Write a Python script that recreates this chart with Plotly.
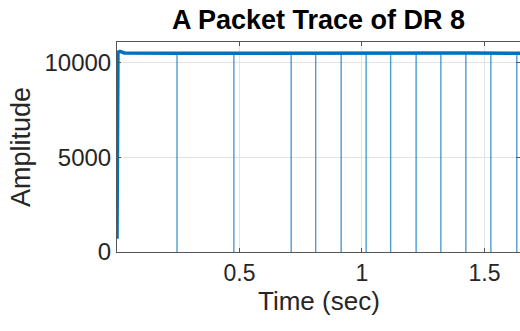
import plotly.graph_objects as go

# Received amplitude of the packet trace (sec, amplitude)
carrier_time = [0.0, 0.004, 0.012, 0.03, 0.25, 0.48, 0.72, 0.95, 1.2, 1.45, 1.645]
carrier_amp = [700, 10560, 10600, 10520, 10500, 10510, 10490, 10520, 10500, 10520, 10500]

# Times where the amplitude drops out between packets
dropout_time = [0.245, 0.477, 0.711, 0.811, 0.915, 1.017, 1.117, 1.221,
                1.322, 1.424, 1.526, 1.632]
dropout_level = 10500

# Build vertical dropout segments (level -> 0 -> level) separated by gaps
dx, dy = [], []
for t in dropout_time:
    dx += [t, t, None]
    dy += [dropout_level, 0, None]

BLUE = "#0072BD"
AXIS = "#555555"
TXT = "#262626"
FONT = "Arial, Liberation Sans, Helvetica, sans-serif"

fig = go.Figure()
fig.add_trace(go.Scatter(x=dx, y=dy, mode="lines",
                         line=dict(color="rgba(0,114,189,0.7)", width=1.4),
                         hoverinfo="skip", showlegend=False))
fig.add_trace(go.Scatter(x=carrier_time, y=carrier_amp, mode="lines",
                         line=dict(color=BLUE, width=3.5),
                         showlegend=False))

fig.update_layout(
    width=520, height=331,
    margin=dict(l=117, r=0, t=42, b=79),
    paper_bgcolor="white", plot_bgcolor="white",
    font=dict(family=FONT, color=TXT, size=24),
    title=dict(text="<b>A Packet Trace of DR 8</b>", x=0.5, xanchor="center",
               xref="paper", y=0.94, yanchor="middle",
               font=dict(family=FONT, size=27, color="black")),
    annotations=[dict(text="Time (sec)", xref="paper", yref="paper",
                      x=0.5, y=0, xanchor="center", yanchor="middle",
                      yshift=-49, showarrow=False,
                      font=dict(family=FONT, size=26, color=TXT))],
)
fig.update_xaxes(
    range=[0, 1.645], tickvals=[0.5, 1, 1.5], ticktext=["0.5", "1", "1.5"],
    showgrid=True, gridcolor="#e3e3e3", gridwidth=1,
    showline=True, linecolor=AXIS, linewidth=1, mirror="ticks",
    ticks="inside", ticklen=4, tickcolor=AXIS,
    zeroline=False, tickfont=dict(size=23, color=TXT),
)
fig.update_yaxes(
    range=[0, 11100], tickvals=[0, 5000, 10000], ticktext=["0", "5000", "10000"],
    showgrid=True, gridcolor="#e3e3e3", gridwidth=1,
    showline=True, linecolor=AXIS, linewidth=1, mirror="ticks",
    ticks="inside", ticklen=4, tickcolor=AXIS,
    zeroline=False, tickfont=dict(size=24, color=TXT),
    title=dict(text="Amplitude", font=dict(size=27, color=TXT), standoff=6),
)

fig.write_html("out.html")
